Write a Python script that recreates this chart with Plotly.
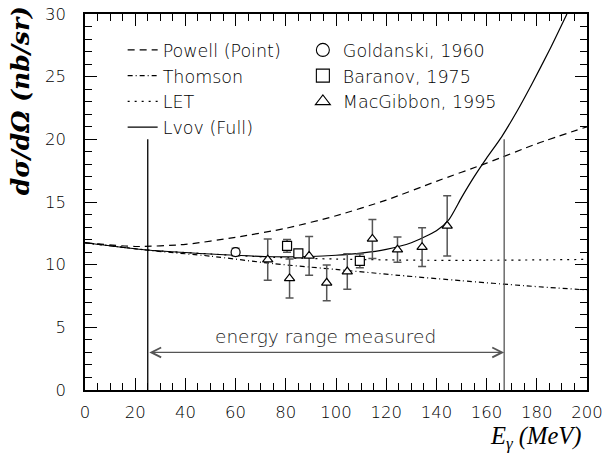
import plotly.graph_objects as go

# ---------------- data ----------------
powell_x = [0, 20, 40, 60, 80, 100, 120, 140, 160, 180, 200]
powell_y = [11.75, 11.45, 11.62, 12.18, 12.9, 13.9, 15.15, 16.65, 18.1, 19.65, 21.0]

thomson_x = [0, 25, 50, 75, 100, 125, 150, 175, 200]
thomson_y = [11.75, 11.15, 10.68, 10.08, 9.62, 9.15, 8.72, 8.32, 7.98]

let_x = [0, 25, 50, 75, 100, 125, 150, 175, 200]
let_y = [11.75, 11.17, 10.85, 10.58, 10.45, 10.37, 10.34, 10.37, 10.42]

lvov_x = [0, 25, 50, 75, 90, 100, 110, 120, 130, 140, 145, 150, 155, 160, 166, 172, 178, 185, 192]
lvov_y = [11.75, 11.17, 10.85, 10.63, 10.65, 10.75, 10.92, 11.22, 11.75, 12.7, 13.6, 15.35, 17.0, 18.5, 20.2, 22.2, 24.4, 27.1, 30.0]

gold_x = [60]
gold_y = [11.0]
gold_e = [0.3]

bar_x = [80.5, 85, 109.5]
bar_y = [11.5, 10.9, 10.3]
bar_e = [0.5, 0.25, 0.55]

mac_x = [72.8, 81.5, 89.3, 96.3, 104.5, 114.5, 124.5, 134.3, 144.3]
mac_y = [10.4, 8.9, 10.7, 8.55, 9.45, 12.05, 11.2, 11.4, 13.1]
mac_e = [1.65, 1.55, 1.55, 1.43, 1.42, 1.55, 1.0, 1.55, 2.4]

range_lo = 25
range_hi = 167
range_top = 20
range_arrow_y = 3

x_ticks = list(range(0, 201, 20))
y_ticks = list(range(0, 31, 5))

# ---------------- figure ----------------
SANS = "DejaVu Sans"
SERIF = "DejaVu Serif"

fig = go.Figure()

line_specs = [
    ("Powell (Point)", powell_x, powell_y, "7px,5px"),
    ("Thomson", thomson_x, thomson_y, "5px,3px,1px,3px"),
    ("LET", let_x, let_y, "2px,5px"),
    ("Lvov (Full)", lvov_x, lvov_y, "solid"),
]
for name, xs, ys, dash in line_specs:
    fig.add_trace(go.Scatter(
        x=xs, y=ys, mode="lines", name=name,
        line=dict(color="black", width=1.2, dash=dash, shape="spline", smoothing=0.6),
        legend="legend", legendgroup=name,
    ))

# energy range vertical markers
fig.add_trace(go.Scatter(x=[range_lo, range_lo], y=[0, range_top], mode="lines",
                         line=dict(color="black", width=1.3), showlegend=False))
fig.add_trace(go.Scatter(x=[range_hi, range_hi], y=[0, range_top], mode="lines",
                         line=dict(color="#555555", width=1.3), showlegend=False))

pt_specs = [
    ("Goldanski, 1960", gold_x, gold_y, gold_e, "circle-open", 9),
    ("Baranov, 1975", bar_x, bar_y, bar_e, "square-open", 9),
    ("MacGibbon, 1995", mac_x, mac_y, mac_e, "triangle-up-open", 9),
]
for name, xs, ys, es, sym, sz in pt_specs:
    fig.add_trace(go.Scatter(
        x=xs, y=ys, mode="markers", showlegend=False,
        marker=dict(symbol=sym.replace("-open", ""), size=sz, color="white",
                    line=dict(color="black", width=1.2)),
        error_y=dict(type="data", array=es, visible=True, color="#555555",
                     thickness=1.5, width=4),
    ))
    # legend-only entry
    fig.add_trace(go.Scatter(
        x=[None], y=[None], mode="markers", name=name, legend="legend2",
        legendgroup=name,
        marker=dict(symbol=sym, size=13, color="black", line=dict(color="black", width=1.1)),
    ))

# arrow for measured energy range
fig.add_annotation(x=range_hi, y=range_arrow_y, ax=range_lo, ay=range_arrow_y,
                   xref="x", yref="y", axref="x", ayref="y",
                   showarrow=True, arrowhead=5, arrowside="end+start",
                   arrowsize=1.6, arrowwidth=1.2, arrowcolor="#555555", text="")
fig.add_annotation(x=(range_lo + range_hi) / 2, y=range_arrow_y, xref="x", yref="y",
                   text="energy range measured", showarrow=False,
                   xanchor="center", yanchor="bottom", yshift=3,
                   font=dict(family=SANS, size=18.5, color="#222222", weight=200))

# axis titles
fig.add_annotation(x=-0.128, y=0.77, xref="paper", yref="paper",
                   xanchor="center", yanchor="middle",
                   text="<b><i>dσ/dΩ (nb/sr)</i></b>", textangle=-90, showarrow=False,
                   font=dict(family=SERIF, size=25, color="black"))
fig.add_annotation(x=0.993, y=-0.125, xref="paper", yref="paper",
                   xanchor="right", yanchor="middle",
                   text="<i>E<sub>γ</sub> (MeV)</i>", showarrow=False,
                   font=dict(family="Liberation Serif", size=24.5, color="black"))

axis_common = dict(
    showline=True, linecolor="black", linewidth=1.6, mirror="ticks",
    ticks="inside", ticklen=12, tickwidth=1.2, tickcolor="black",
    showgrid=False, zeroline=False, automargin=False,
    tickfont=dict(family=SANS, size=16.5, color="black", weight=200),
)

fig.update_xaxes(range=[0, 200], tickvals=x_ticks, ticktext=[str(v) for v in x_ticks],
                 ticklabelstandoff=6,
                 minor=dict(dtick=5, ticks="inside", ticklen=7, tickwidth=1.1,
                            tickcolor="black", showgrid=False),
                 **axis_common)
fig.update_yaxes(range=[0, 30], tickvals=y_ticks, ticktext=[str(v) for v in y_ticks],
                 ticklabelstandoff=14,
                 minor=dict(dtick=1, ticks="inside", ticklen=7, tickwidth=1.1,
                            tickcolor="black", showgrid=False),
                 **axis_common)

legend_font = dict(family=SANS, size=17.5, color="black", weight=200)
fig.update_layout(
    width=603, height=456,
    margin=dict(l=85, r=16, t=14, b=66, autoexpand=False),
    paper_bgcolor="white", plot_bgcolor="white",
    legend=dict(x=0.075, y=0.952, xanchor="left", yanchor="top",
                bgcolor="rgba(0,0,0,0)", borderwidth=0, font=legend_font,
                tracegroupgap=0, traceorder="normal"),
    legend2=dict(x=0.434, y=0.952, xanchor="left", yanchor="top",
                 bgcolor="rgba(0,0,0,0)", borderwidth=0, font=legend_font,
                 tracegroupgap=0, traceorder="normal"),
)

fig.write_html("out.html", config={"displayModeBar": False},
               post_script="document.body.style.margin='0';")
